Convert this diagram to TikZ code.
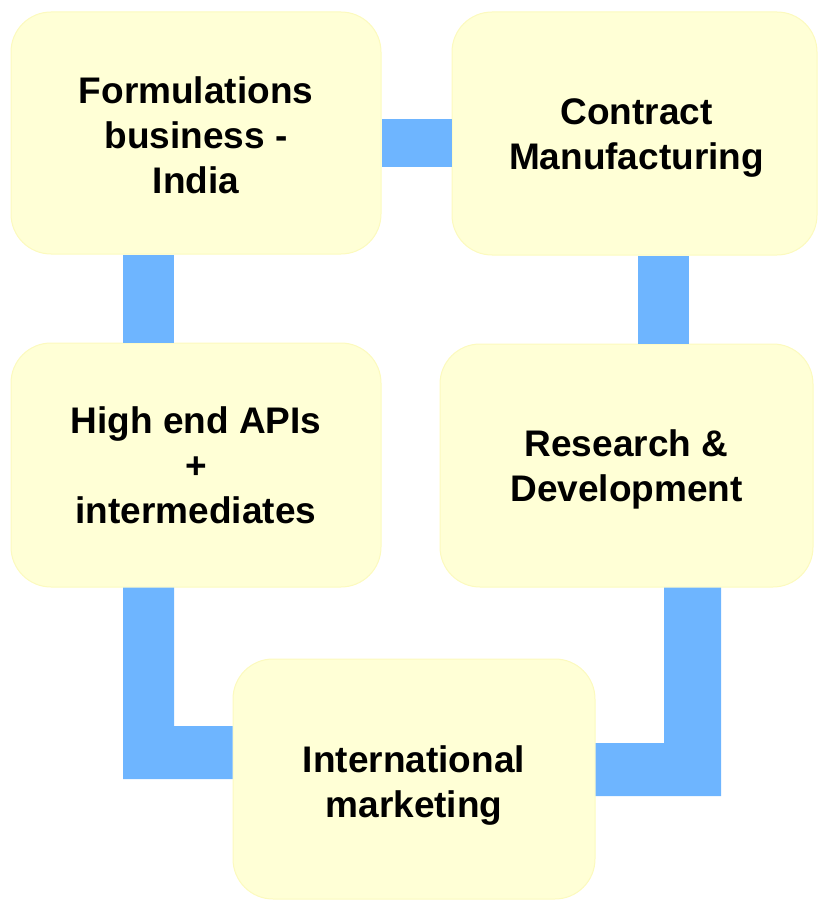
\documentclass[tikz,border=0pt]{standalone}
\usepackage{fontspec}
\setmainfont{Liberation Sans}
\definecolor{connblue}{RGB}{110,181,255}
\definecolor{boxfill}{RGB}{255,255,214}
\definecolor{boxedge}{RGB}{252,250,190}
\begin{document}
\begin{tikzpicture}[x=1pt,y=-1pt,
  box/.style={draw=boxedge, fill=boxfill, line width=1pt, rounded corners=40pt, inner sep=0pt},
  txt/.style={align=center, inner sep=0pt, font=\fontsize{37}{45}\selectfont\bfseries},
  conn/.style={fill=connblue}]
\useasboundingbox (0,0) rectangle (819,901);
\node[box, minimum width=370, minimum height=242] (b1) at (196,133) {};
\node[box, minimum width=365, minimum height=243] (b2) at (634.5,133.5) {};
\node[box, minimum width=370, minimum height=244] (b3) at (196,465) {};
\node[box, minimum width=373, minimum height=243] (b4) at (626.5,465.5) {};
\node[box, minimum width=362, minimum height=240] (b5) at (414,779) {};
\node[txt] (t1) at ([yshift=-2pt]b1.center) {Formulations\\business -\\India};
\node[txt] (t2) at ([xshift=2pt,yshift=-5pt]b2.center) {Contract\\Manufacturing};
\node[txt] (t3) at (b3.center) {High end APIs\\+\\intermediates};
\node[txt] (t4) at ([yshift=-4pt]b4.center) {Research \&\\Development};
\node[txt] (t5) at ([yshift=-7pt]b5.center) {International\\marketing};
\fill[conn] (b1.east |- 0,119) rectangle (b2.west |- 0,167);
\fill[conn] (b1.south -| 123,0) rectangle (b3.north -| 174,0);
\fill[conn] (b2.south -| 638,0) rectangle (b4.north -| 689,0);
\fill[conn] (b3.south -| 123,0) -- (b3.south -| 174,0) -- (174,726) -- (b5.west |- 0,726) -- (b5.west |- 0,779) -- (123,779) -- cycle;
\fill[conn] (b4.south -| 664,0) -- (b4.south -| 721,0) -- (721,796) -- (b5.east |- 0,796) -- (b5.east |- 0,743) -- (664,743) -- cycle;
\end{tikzpicture}
\end{document}
